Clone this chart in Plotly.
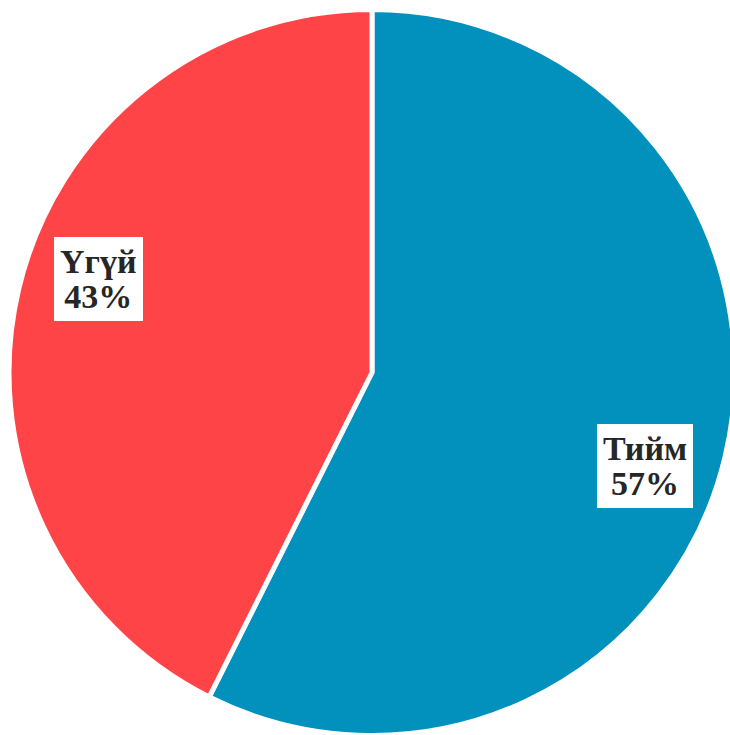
import math
import plotly.graph_objects as go

labels = ["Тийм", "Үгүй"]
values = [57.4, 42.6]
colors = ["#0291BC", "#FE4447"]

# figure is a bit larger than the window; the window crops it
W, H = 746, 740
# pie domain in pixels (from left / from top)
dom_left, dom_right = 7.5, 736.5
dom_top, dom_bottom = 9.5, 735.5

fig = go.Figure(go.Pie(
    labels=labels,
    values=values,
    sort=False,
    direction="clockwise",
    rotation=0,
    textinfo="none",
    hoverinfo="label+percent",
    marker=dict(colors=colors, line=dict(color="white", width=5)),
    domain=dict(x=[dom_left / W, dom_right / W],
                y=[(H - dom_bottom) / H, (H - dom_top) / H]),
    showlegend=False,
))

# label boxes placed from the slice geometry
cx = (dom_left + dom_right) / 2
cy = (dom_top + dom_bottom) / 2
R = min(dom_right - dom_left, dom_bottom - dom_top) / 2
total = sum(values)
start = 0.0
for lab, v in zip(labels, values):
    frac = v / total
    mid = (start + frac / 2) * 360 + 5.5
    start += frac
    th = math.radians(mid)
    r = 0.795 * R
    px = cx + r * math.sin(th)
    py = cy - r * math.cos(th)
    fig.add_annotation(
        x=px / W, y=(H - py) / H, xref="paper", yref="paper",
        xanchor="center", yanchor="middle",
        text=(f"<b><span style='font-size:34px'>{lab}</span><br>"
              f"<span style='font-size:34px'>{round(frac * 100)}%</span></b>"),
        showarrow=False,
        font=dict(family="Liberation Serif", size=27, color="#262626"),
        bgcolor="white", borderpad=6, borderwidth=0,
        align="center",
    )

fig.update_layout(
    width=W, height=H,
    margin=dict(l=0, r=0, t=0, b=0),
    paper_bgcolor="white",
    plot_bgcolor="white",
)

fig.write_html(
    "out.html",
    config={"displayModeBar": False},
    post_script="document.body.style.margin='0';document.body.style.overflow='hidden';",
)
